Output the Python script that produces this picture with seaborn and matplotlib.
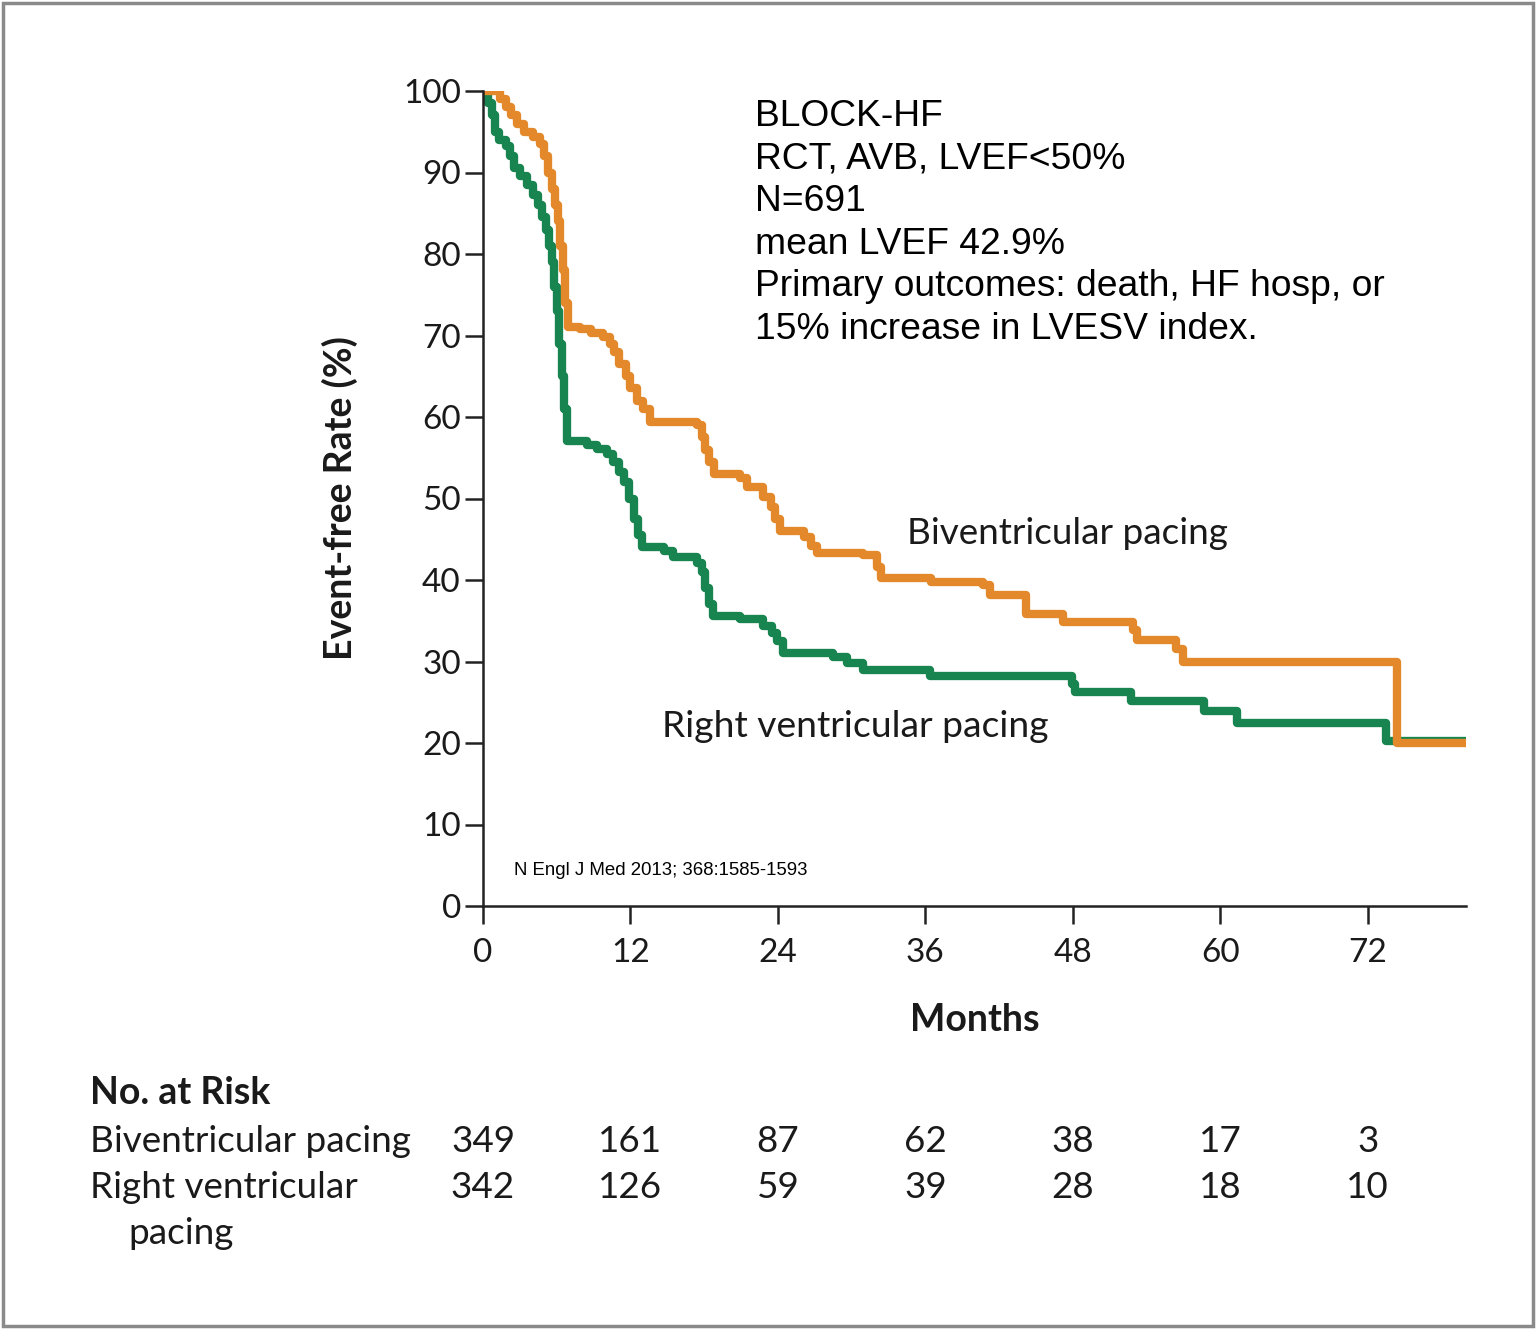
import pandas as pd
import matplotlib.pyplot as plt
import matplotlib.transforms as mtransforms
from matplotlib.patches import Rectangle
import seaborn as sns

# Kaplan-Meier step points (months, event-free %)
biv_months = [0, 1.4, 1.9, 2.3, 2.8, 3.3, 4.1, 4.6, 5.0, 5.3, 5.6, 5.9, 6.1, 6.3, 6.5, 6.7, 6.9,
              7.9, 8.8, 9.8, 10.3, 10.7, 11.1, 11.6, 12.0, 12.5, 13.0, 13.6, 17.4, 17.8, 18.1,
              18.4, 18.8, 20.9, 21.5, 22.8, 23.4, 23.8, 24.2, 26.1, 26.7, 27.2, 30.9, 32.1,
              32.4, 36.5, 40.7, 41.3, 44.2, 47.2, 52.9, 53.2, 56.4, 57.0, 74.4, 80.0]
biv_rate = [100, 99, 98, 97, 96, 95, 94.4, 93.5, 92, 90, 88, 86, 84, 81, 78, 74, 71,
            70.8, 70.3, 69.8, 69, 68, 66.5, 65, 63.5, 62, 61, 59.4, 59.0, 57.5, 56,
            54.5, 53, 52.5, 51.4, 50.2, 49, 47.5, 46, 45.3, 44.2, 43.3, 43.1, 41.6,
            40.2, 39.7, 39.4, 38.2, 35.8, 34.9, 33.9, 32.6, 31.5, 30.0, 20.0, 20.0]

rv_months = [0, 0.4, 0.7, 1.0, 1.3, 1.9, 2.2, 2.5, 3.0, 3.6, 4.1, 4.5, 4.8, 5.1, 5.4, 5.6, 5.8,
             6.0, 6.2, 6.4, 6.6, 6.8, 8.5, 9.3, 10.1, 10.6, 11.1, 11.5, 11.9, 12.3, 12.6, 12.9,
             14.7, 15.5, 17.4, 17.8, 18.1, 18.4, 18.7, 20.9, 22.8, 23.5, 23.9, 24.4, 28.5,
             29.6, 30.9, 36.4, 47.9, 48.2, 52.7, 58.7, 61.4, 73.5, 80.0]
rv_rate = [100, 98.5, 97, 95, 94, 93.2, 92, 90.5, 89.6, 88.5, 87.3, 86, 84.5, 83, 81, 79, 76,
           73, 69, 65, 61, 57, 56.6, 56.1, 55.4, 54.5, 53.3, 52, 50, 47.5, 45.5, 44.0,
           43.6, 42.8, 42.1, 41, 39, 37, 35.6, 35.2, 34.4, 33.5, 32.5, 31, 30.6,
           29.8, 29.0, 28.2, 27.2, 26.2, 25.1, 23.9, 22.4, 20.2, 20.0]

risk_months = [0, 12, 24, 36, 48, 60, 72]
biv_at_risk = [349, 161, 87, 62, 38, 17, 3]
rv_at_risk = [342, 126, 59, 39, 28, 18, 10]

biv_name = "Biventricular pacing"
rv_name = "Right ventricular pacing"

km = pd.concat([
    pd.DataFrame({"Months": rv_months, "Rate": rv_rate, "Group": rv_name}),
    pd.DataFrame({"Months": biv_months, "Rate": biv_rate, "Group": biv_name}),
], ignore_index=True)

sns.set_theme(style="ticks")
plt.rcParams['font.family'] = ['Lato', 'DejaVu Sans']

fig = plt.figure(figsize=(15.36, 13.29), dpi=100)
ax = fig.add_axes([483 / 1536, 1 - 906 / 1329, (1466 - 483) / 1536, (906 - 91) / 1329])

sns.lineplot(data=km, x="Months", y="Rate", hue="Group",
             hue_order=[rv_name, biv_name],
             palette={biv_name: "#E3892B", rv_name: "#188550"},
             estimator=None, drawstyle="steps-post", linewidth=6.0,
             legend=False, ax=ax)

ax.set_xlim(0, 80)
ax.set_ylim(0, 100)
ax.set_xticks(risk_months)
ax.set_yticks(range(0, 101, 10))
ax.tick_params(axis="both", direction="out", length=13, width=1.8, color="#222222",
               labelsize=24, labelcolor="#1a1a1a")
ax.tick_params(axis="y", pad=3)
ax.tick_params(axis="x", pad=10)
for side in ["top", "right"]:
    ax.spines[side].set_visible(False)
for side in ["left", "bottom"]:
    ax.spines[side].set_linewidth(1.8)
    ax.spines[side].set_color("#222222")

ax.set_xlabel("Months", fontsize=27, fontweight="bold", color="#1a1a1a")
ax.set_ylabel("Event-free Rate (%)", fontsize=27, fontweight="bold", color="#1a1a1a")
ax.xaxis.set_label_coords(0.5, -0.119)
ax.yaxis.set_label_coords(-0.127, 0.5)

# curve labels
ax.text(34.5, 45.7, biv_name, fontsize=26.6, color="#1a1a1a", va="center")
ax.text(14.6, 22.0, rv_name, fontsize=26.8, color="#1a1a1a", va="center")

# study notes
notes = ["BLOCK-HF", "RCT, AVB, LVEF<50%", "N=691", "mean LVEF 42.9%",
         "Primary outcomes: death, HF hosp, or", "15% increase in LVESV index."]
for i, line in enumerate(notes):
    fig.text(755 / 1536, 1 - (116 + i * 42.7) / 1329, line, fontsize=26.8,
             family=["Liberation Sans", "DejaVu Sans"], color="black", va="center")

ax.text(2.5, 4.3, "N Engl J Med 2013; 368:1585-1593", fontsize=13.4,
        family=["Liberation Sans", "DejaVu Sans"], color="black", va="center")

# number at risk table
tr = mtransforms.blended_transform_factory(ax.transData, fig.transFigure)
fig.text(90 / 1536, 1 - 1093 / 1329, "No. at Risk", fontsize=27, fontweight="bold",
         color="#1a1a1a", va="center")
fig.text(90 / 1536, 1 - 1141 / 1329, "Biventricular pacing", fontsize=26.6,
         color="#1a1a1a", va="center")
fig.text(90 / 1536, 1 - 1187 / 1329, "Right ventricular", fontsize=26.6,
         color="#1a1a1a", va="center")
fig.text(128 / 1536, 1 - 1233 / 1329, "pacing", fontsize=26.6,
         color="#1a1a1a", va="center")
for m, b, r in zip(risk_months, biv_at_risk, rv_at_risk):
    ax.text(m, 1 - 1141 / 1329, str(b), transform=tr, fontsize=26.6, color="#1a1a1a",
            ha="center", va="center")
    ax.text(m, 1 - 1187 / 1329, str(r), transform=tr, fontsize=26.6, color="#1a1a1a",
            ha="center", va="center")

# grey frame round the picture
fig.patches.append(Rectangle((0.002, 0.002), 0.996, 0.996, transform=fig.transFigure,
                             fill=False, edgecolor="#8a8a8a", linewidth=2.5))

fig.savefig("out.png", dpi=100, facecolor="white")
